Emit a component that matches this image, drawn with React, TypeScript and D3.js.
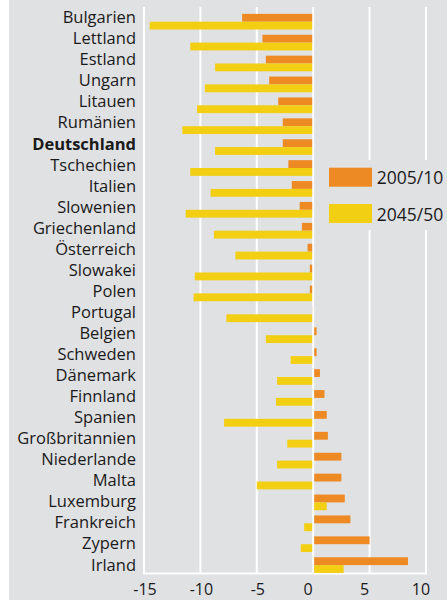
import React from "react";
import * as d3 from "d3";

const categories = [
  "Bulgarien", "Lettland", "Estland", "Ungarn", "Litauen", "Rumänien", "Deutschland",
  "Tschechien", "Italien", "Slowenien", "Griechenland", "Österreich", "Slowakei", "Polen",
  "Portugal", "Belgien", "Schweden", "Dänemark", "Finnland", "Spanien", "Großbritannien",
  "Niederlande", "Malta", "Luxemburg", "Frankreich", "Zypern", "Irland",
];
const values2005 = [
  -6.3, -4.5, -4.2, -3.9, -3.1, -2.7, -2.7, -2.2, -1.9, -1.2, -1.0, -0.5, -0.3, -0.3,
  -0.1, 0.3, 0.3, 0.6, 1.0, 1.2, 1.3, 2.5, 2.5, 2.8, 3.3, 5.0, 8.4,
];
const values2045 = [
  -14.5, -10.9, -8.7, -9.6, -10.3, -11.6, -8.7, -10.9, -9.1, -11.3, -8.8, -6.9, -10.5, -10.6,
  -7.7, -4.2, -2.0, -3.2, -3.3, -7.9, -2.3, -3.2, -5.0, 1.2, -0.8, -1.1, 2.7,
];
const seriesNames = ["2005/10", "2045/50"];
const xTicks = [-15, -10, -5, 0, 5, 10];
const highlighted = "Deutschland";

const W = 447;
const H = 600;
const ORANGE = "#ee8a24";
const YELLOW = "#f2cf12";
const BG = "#e0e1e3";
const FONT = "'Open Sans', sans-serif";
const INK = "#1a1a1a";

export default function App() {
  const x = d3.scaleLinear().domain([-15, 10]).range([144, 426]);
  const y = d3
    .scaleBand<string>()
    .domain(categories)
    .range([11.25, 575.55])
    .paddingInner(0.25)
    .paddingOuter(0.125);
  const yLabel = d3.scalePoint<string>().domain(categories).range([16.7, 564]);
  const bw = y.bandwidth() / 2;
  const x0 = x(0);

  const barX = (v: number) => (v < 0 ? x(v) : x0 + 1);
  const barW = (v: number) => (v < 0 ? Math.max(0, x0 - 1 - x(v)) : Math.max(0, x(v) - x0 - 1));

  const gridTop = 7;
  const gridBottom = 573.5;

  return (
    <svg
      width={W}
      height={H}
      style={{ position: "absolute", left: 0, top: 0, display: "block" }}
    >
      <rect x={9} y={0} width={W - 9} height={H} fill={BG} />
      {xTicks.map((t) => (
        <line
          key={"g" + t}
          x1={x(t)}
          x2={x(t)}
          y1={gridTop}
          y2={gridBottom}
          stroke="#fff"
          strokeWidth={2}
        />
      ))}
      <line x1={x(-15) - 1} x2={x(10) + 1} y1={gridBottom} y2={gridBottom} stroke="#fff" strokeWidth={2} />
      {categories.map((c, i) => (
        <g key={c}>
          <rect x={barX(values2005[i])} y={y(c)!} width={barW(values2005[i])} height={bw} fill={ORANGE} />
          <rect x={barX(values2045[i])} y={y(c)! + bw} width={barW(values2045[i])} height={bw} fill={YELLOW} />
          <text
            x={136}
            y={yLabel(c)!}
            textAnchor="end"
            dominantBaseline="central"
            fontFamily={FONT}
            fontSize={16.5}
            fontWeight={c === highlighted ? 700 : 400}
            fill={INK}
          >
            {c}
          </text>
        </g>
      ))}
      {xTicks.map((t) => (
        <text
          key={"t" + t}
          x={x(t)}
          dx={t >= 0 ? -5 : 1}
          y={595}
          textAnchor="middle"
          fontFamily={FONT}
          fontSize={16}
          fill={INK}
        >
          {t < 0 ? "-" + Math.abs(t) : String(t)}
        </text>
      ))}
      <rect x={321} y={160} width={W - 321} height={70} fill={BG} />
      {seriesNames.map((s, i) => (
        <g key={s}>
          <rect x={329} y={167.7 + i * 36.3} width={43} height={19} fill={i === 0 ? ORANGE : YELLOW} />
          <text
            x={376.7}
            y={177.2 + i * 36.3}
            dominantBaseline="central"
            fontFamily={FONT}
            fontSize={17.5}
            fill={INK}
          >
            {s}
          </text>
        </g>
      ))}
    </svg>
  );
}
